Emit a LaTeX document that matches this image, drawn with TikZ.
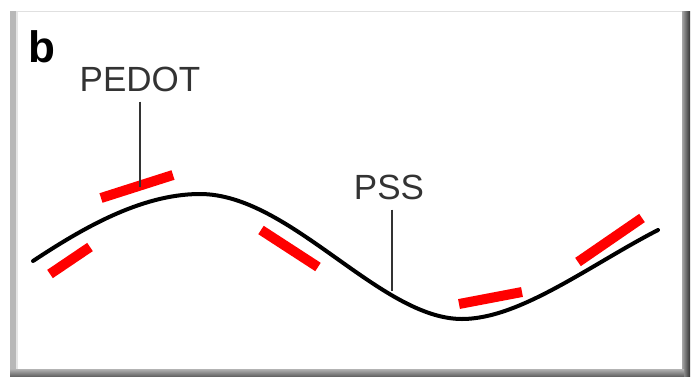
\documentclass[tikz,border=0pt]{standalone}
\usepackage{fontspec}
\setmainfont{Liberation Sans}
\begin{document}
\begin{tikzpicture}[x=1pt,y=-1pt,
  lbl/.style={font=\fontsize{35}{35}\selectfont, text=black!80, inner sep=0pt},
  leader/.style={draw=black!80, line width=1.4pt},
  pedotbar/.style={draw=red, line width=10pt},
  chain/.style={draw=black, line width=4pt, line cap=round}]
  \useasboundingbox (0,0) rectangle (692,383);
  % panel frame with shaded edges
  \fill[white] (10,11) rectangle (690,376);
  \fill[black!28] (10,11) rectangle (16,376);
  \fill[black!10] (16,11) rectangle (18,370);
  \draw[black!12, line width=1pt] (16,11.5) -- (682,11.5);
  \shade[left color=black!35, right color=black!80] (682,11) rectangle (690,376);
  \shade[top color=black!30, bottom color=black!60] (10,369) rectangle (684,376);
  % panel letter
  \node[font=\bfseries\fontsize{44}{44}\selectfont, inner sep=0pt, anchor=base west] (b) at (28,62) {b};
  % PSS backbone
  \draw[chain] (33,261) .. controls (80,230) and (140,194) .. (200,194)
                        .. controls (290,194) and (380,319) .. (462,319)
                        .. controls (520,319) and (590,265) .. (658,230);
  % PEDOT segments
  \coordinate (p1a) at (50,274); \coordinate (p1b) at (90,247);
  \coordinate (p2a) at (101,198); \coordinate (p2b) at (173,175);
  \coordinate (p3a) at (261,230); \coordinate (p3b) at (318,267);
  \coordinate (p4a) at (459,304); \coordinate (p4b) at (522,292);
  \coordinate (p5a) at (578,262); \coordinate (p5b) at (642,218);
  \foreach \s in {1,...,5}{\draw[pedotbar] (p\s a) -- (p\s b);}
  % labels and leaders
  \node[lbl] (pedot) at (140,79) {PEDOT};
  \coordinate (pedotend) at (140,187);
  \draw[leader] ([yshift=-10pt]pedot.south) -- (pedotend);
  \node[lbl] (pss) at (389,187) {PSS};
  \coordinate (pssend) at (392,291);
  \draw[leader] (pss.south -| pssend) ++(0,10) -- (pssend);
\end{tikzpicture}
\end{document}
